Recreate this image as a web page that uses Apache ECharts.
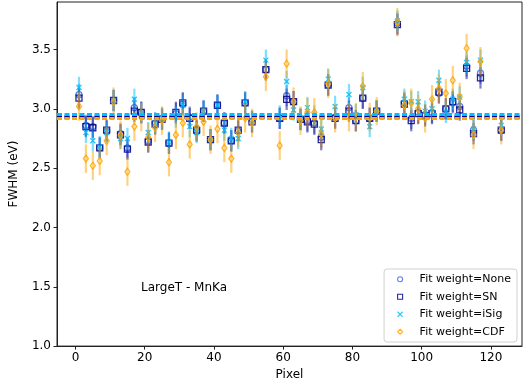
<!DOCTYPE html>
<html>
<head>
<meta charset="utf-8">
<script src="https://cdn.jsdelivr.net/npm/echarts@6/dist/echarts.min.js"></script>
<style>
  html, body { margin: 0; padding: 0; background: #fff; }
  #chart { width: 524px; height: 386px; }
</style>
</head>
<body>
<div id="chart"></div>
<script>
// pixel index of each fitted point
const pixels = [1, 3, 5, 7, 9, 11, 13, 15, 17, 19, 21, 23, 25, 27, 29, 31, 33, 35, 37, 39, 41, 43, 45, 47, 49, 51,
  55, 59, 61, 63, 65, 67, 69, 71, 73, 75, 79, 81, 83, 85, 87,
  93, 95, 97, 99, 101, 103, 105, 107, 109, 111, 113, 115, 117, 123];

// FWHM (eV) per fit weighting
const fwhmNone = [3.12, 2.86, 2.85, 2.67, 2.81, 3.07, 2.79, 2.67, 3.01, 2.97, 2.73, 2.88, 2.92, 2.71, 2.96, 3.04, 2.93, 2.81, 2.98, 2.74, 3.03, 2.88, 2.73, 2.81, 3.05, 2.89,
  3.33, 2.92, 3.11, 3.06, 2.91, 2.90, 2.88, 2.76, 3.20, 2.93, 3.01, 2.90, 3.09, 2.92, 2.98,
  3.72, 3.05, 2.92, 2.97, 2.95, 2.97, 3.13, 3.00, 3.05, 3.02, 3.36, 2.82, 3.30, 2.82];
const fwhmSN = [3.09, 2.85, 2.84, 2.67, 2.82, 3.07, 2.78, 2.66, 2.98, 2.97, 2.72, 2.87, 2.91, 2.71, 2.97, 3.05, 2.92, 2.82, 2.98, 2.74, 3.03, 2.88, 2.73, 2.82, 3.05, 2.89,
  3.33, 2.92, 3.08, 3.06, 2.91, 2.89, 2.87, 2.74, 3.20, 2.92, 2.98, 2.90, 3.09, 2.92, 2.98,
  3.71, 3.04, 2.90, 2.96, 2.94, 2.96, 3.14, 3.00, 3.06, 2.99, 3.34, 2.79, 3.26, 2.82];
const fwhmISig = [3.18, 2.80, 2.73, 2.68, 2.80, 3.07, 2.75, 2.75, 3.08, 2.96, 2.80, 2.88, 2.92, 2.72, 2.93, 3.03, 2.85, 2.80, 2.98, 2.74, 3.03, 2.82, 2.75, 2.75, 3.06, 2.90,
  3.41, 2.94, 3.23, 2.99, 2.92, 3.01, 2.94, 2.83, 3.25, 3.02, 3.12, 2.95, 3.18, 2.85, 2.98,
  3.74, 3.08, 3.06, 3.06, 2.98, 3.00, 3.24, 2.97, 3.08, 3.10, 3.39, 2.83, 3.41, 2.86];
const fwhmCDF = [3.02, 2.58, 2.52, 2.56, 2.73, 3.06, 2.78, 2.47, 2.85, 2.93, 2.76, 2.84, 2.90, 2.55, 2.78, 2.88, 2.70, 2.85, 2.89, 2.74, 2.83, 2.67, 2.58, 2.80, 2.92, 2.88,
  3.27, 2.69, 3.38, 3.06, 2.90, 2.97, 2.97, 2.79, 3.21, 2.92, 2.93, 2.93, 3.19, 2.93, 2.98,
  3.73, 3.03, 3.05, 3.00, 2.92, 3.08, 3.17, 3.13, 3.24, 3.10, 3.51, 2.78, 3.40, 2.82];

// 1-sigma uncertainty per weighting
const errNone = 0.09;
const errSN = 0.09;
const errISig = 0.09;
const errCDF = 0.12;

// mean FWHM per weighting (dashed lines)
const meanNone = 2.942;
const meanSN = 2.933;
const meanISig = 2.952;
const meanCDF = 2.915;

const xTicks = [0, 20, 40, 60, 80, 100, 120];
const yTicks = [1.0, 1.5, 2.0, 2.5, 3.0, 3.5];

const FONT = 'DejaVu Sans';
const X_SYMBOL = 'path://M0,0L10,10M10,0L0,10';

const groups = [
  { name: 'Fit weight=None', values: fwhmNone, err: errNone, mean: meanNone, color: '#4169e1', symbol: 'circle', size: 6 },
  { name: 'Fit weight=SN', values: fwhmSN, err: errSN, mean: meanSN, color: '#00008b', symbol: 'rect', size: 6 },
  { name: 'Fit weight=iSig', values: fwhmISig, err: errISig, mean: meanISig, color: '#00bfff', symbol: X_SYMBOL, size: 5 },
  { name: 'Fit weight=CDF', values: fwhmCDF, err: errCDF, mean: meanCDF, color: '#ffa500', symbol: 'diamond', size: [5, 7] },
];

const series = [];
groups.forEach((g, gi) => {
  series.push({
    name: g.name + ' err',
    type: 'custom',
    clip: true,
    z: 2 + gi,
    data: pixels.map((p, i) => [p, g.values[i], g.err]),
    renderItem: (params, api) => {
      const lo = api.coord([api.value(0), api.value(1) - api.value(2)]);
      const hi = api.coord([api.value(0), api.value(1) + api.value(2)]);
      return {
        type: 'line',
        shape: { x1: lo[0], y1: lo[1], x2: hi[0], y2: hi[1] },
        style: { stroke: g.color, lineWidth: 2.2, opacity: 0.5 },
      };
    },
  });
  series.push({
    name: g.name,
    type: 'scatter',
    z: 2 + gi,
    symbol: g.symbol,
    symbolSize: g.size,
    itemStyle: { color: 'rgba(0,0,0,0)', borderColor: g.color, borderWidth: 1.3, opacity: 0.85 },
    data: pixels.map((p, i) => [p, g.values[i]]),
    markLine: {
      silent: true,
      symbol: 'none',
      z: 10,
      label: { show: false },
      lineStyle: { color: g.color, width: 3, type: [5, 2.5], opacity: 1 },
      data: [{ yAxis: g.mean }],
    },
  });
});

const chart = echarts.init(document.getElementById('chart'), null, { renderer: 'canvas' });

chart.setOption({
  animation: false,
  textStyle: { fontFamily: FONT },
  grid: {
    left: 45,
    right: 2,
    top: 2,
    bottom: 38,
    show: true,
    borderColor: '#222',
    borderWidth: 1,
  },
  title: {
    text: 'LargeT - MnKa',
    left: 141,
    top: 282,
    padding: 0,
    textStyle: { fontFamily: FONT, fontSize: 12, fontWeight: 'normal', color: '#000' },
  },
  legend: {
    orient: 'vertical',
    right: 7,
    bottom: 44,
    padding: [4, 6, 4, 13],
    itemGap: 5,
    itemWidth: 5,
    itemHeight: 5,
    borderColor: '#d0d0d0',
    borderWidth: 1,
    borderRadius: 3,
    textStyle: { fontFamily: FONT, fontSize: 11, color: '#000', lineHeight: 12.5, padding: [0, 0, 0, 12] },
    data: groups.map(g => ({
      name: g.name,
      icon: g.symbol,
      itemStyle: { color: 'rgba(0,0,0,0)', borderColor: g.color, borderWidth: 1.1 },
    })),
  },
  xAxis: {
    type: 'value',
    min: -5.35,
    max: 129,
    name: 'Pixel',
    nameLocation: 'middle',
    nameGap: 20,
    nameTextStyle: { fontFamily: FONT, fontSize: 12, color: '#000' },
    axisLine: { onZero: false, lineStyle: { color: '#222', width: 1 } },
    axisTick: { show: true, length: 3.5, customValues: xTicks, lineStyle: { color: '#222' } },
    axisLabel: { customValues: xTicks, fontFamily: FONT, fontSize: 12, color: '#000', margin: 6 },
    splitLine: { show: false },
  },
  yAxis: {
    type: 'value',
    min: 1.0,
    max: 3.9,
    name: 'FWHM (eV)',
    nameLocation: 'middle',
    nameGap: 37,
    nameTextStyle: { fontFamily: FONT, fontSize: 12, color: '#000' },
    axisLine: { show: true, onZero: false, lineStyle: { color: '#222', width: 1 } },
    axisTick: { show: true, length: 3.5, customValues: yTicks, lineStyle: { color: '#222' } },
    axisLabel: { customValues: yTicks, fontFamily: FONT, fontSize: 12, color: '#000', margin: 6, formatter: v => v.toFixed(1) },
    splitLine: { show: false },
  },
  series: series,
});
</script>
</body>
</html>
